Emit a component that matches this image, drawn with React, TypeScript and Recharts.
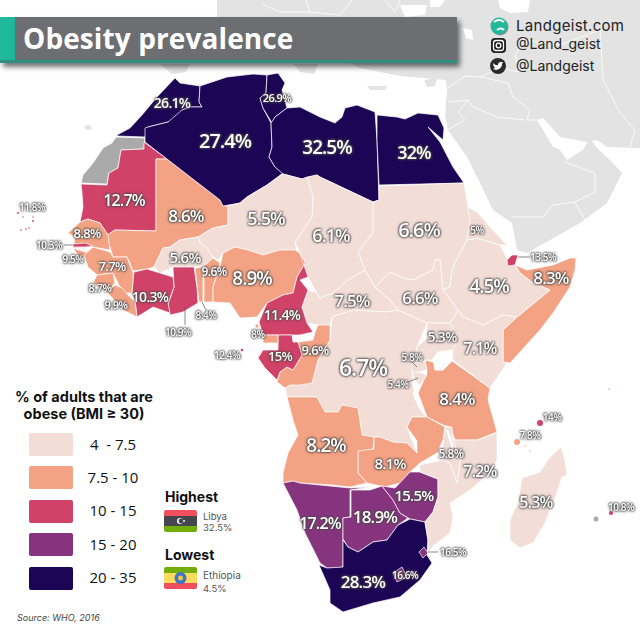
import { Scatter, ScatterChart, XAxis, YAxis } from 'recharts'

type Pt = [number, number]

// outlines, in map units
const morocco: Pt[] = [[117,135],[130,128],[142,115],[157,97],[175,78],[180,83],[200,86],[199,102],[202,107],[190,107],[182,110],[180,117],[168,122],[148,127],[145,137],[117,136]]
const westernSahara: Pt[] = [[116,137],[145,138],[144,149],[121,150],[118,168],[109,173],[107,184],[81,183],[83,175],[93,163],[103,148],[112,143]]
const mauritania: Pt[] = [[144,142],[167,159],[156,159],[156,231],[115,230],[108,235],[100,223],[88,219],[80,222],[83,207],[82,193],[81,184],[107,185],[109,173],[118,168],[121,150],[144,149]]
const mali: Pt[] = [[167,159],[220,200],[223,206],[228,206],[228,225],[213,228],[198,237],[180,240],[170,247],[163,248],[154,267],[147,269],[133,271],[130,263],[127,257],[113,257],[110,247],[107,235],[115,230],[156,231],[156,159]]
const algeria: Pt[] = [[200,86],[227,77],[253,74],[267,75],[266,93],[260,98],[263,108],[271,123],[272,147],[269,157],[275,167],[283,173],[267,185],[247,197],[240,203],[223,206],[220,200],[167,159],[145,142],[145,128],[148,127],[168,122],[182,110],[190,107],[202,107],[199,102]]
const tunisia: Pt[] = [[267,75],[278,73],[285,83],[282,90],[287,108],[275,117],[272,123],[263,108],[260,98],[266,93]]
const libya: Pt[] = [[287,108],[300,107],[320,117],[335,123],[342,117],[345,108],[357,105],[375,112],[377,140],[379,200],[373,202],[320,177],[317,175],[302,179],[283,174],[275,167],[269,157],[272,147],[271,123],[275,117]]
const egypt: Pt[] = [[377,115],[397,117],[405,119],[418,113],[438,115],[444,128],[443,140],[428,127],[440,142],[453,167],[464,183],[379,185],[377,140]]
const sudan: Pt[] = [[379,186],[464,183],[468,207],[478,213],[470,223],[467,240],[458,257],[452,270],[450,287],[443,290],[440,260],[435,260],[433,270],[413,280],[403,278],[390,272],[375,287],[365,270],[358,252],[373,232],[373,202],[379,200]]
const chad: Pt[] = [[307,177],[317,175],[320,177],[373,202],[373,232],[358,252],[365,270],[348,280],[333,293],[320,298],[317,293],[308,277],[300,253],[295,242],[312,217],[313,197]]
const niger: Pt[] = [[283,174],[302,179],[307,177],[313,197],[312,217],[295,242],[297,250],[280,250],[263,255],[248,250],[235,247],[223,253],[218,260],[213,257],[207,248],[200,243],[198,237],[213,228],[228,225],[228,206],[240,203],[247,197],[267,185]]
const burkina: Pt[] = [[198,237],[180,240],[170,247],[163,248],[154,267],[160,273],[173,267],[193,267],[210,265],[213,257],[207,248],[200,243]]
const ghana: Pt[] = [[173,267],[194,267],[197,287],[198,303],[183,312],[170,315],[168,305],[174,287]]
const ivoryCoast: Pt[] = [[134,272],[147,269],[160,273],[173,277],[174,287],[168,303],[170,313],[153,307],[137,317],[135,300],[132,293],[133,280]]
const togo: Pt[] = [[195,268],[203,267],[203,302],[199,302]]
const benin: Pt[] = [[204,266],[213,258],[220,263],[213,287],[213,302],[204,302]]
const nigeria: Pt[] = [[213,302],[213,287],[220,267],[223,253],[235,247],[248,250],[263,255],[280,250],[295,250],[300,253],[305,263],[297,277],[293,293],[283,295],[267,303],[257,317],[240,318],[230,303]]
const cameroon: Pt[] = [[300,253],[308,277],[300,280],[308,290],[302,307],[307,323],[313,332],[300,335],[278,335],[263,335],[259,322],[267,303],[283,295],[293,293],[297,277],[305,263]]
const car: Pt[] = [[308,290],[317,293],[320,298],[333,293],[348,280],[365,270],[375,287],[390,300],[398,310],[387,312],[353,310],[332,317],[330,325],[318,325],[307,323],[302,307]]
const congo: Pt[] = [[330,325],[318,325],[315,332],[313,340],[298,342],[302,355],[293,370],[287,367],[280,372],[277,382],[285,388],[290,385],[300,385],[312,383],[318,360],[330,340]]
const gabon: Pt[] = [[278,335],[292,335],[293,342],[298,342],[302,355],[293,370],[287,367],[280,372],[277,380],[265,368],[258,358],[263,350],[278,350]]
const eqGuinea: Pt[] = [[263,335],[278,335],[278,343],[263,343]]
const drc: Pt[] = [[332,317],[353,310],[387,312],[398,310],[427,323],[417,347],[417,363],[412,370],[413,387],[420,407],[427,417],[412,417],[407,427],[417,453],[407,443],[393,442],[380,437],[373,437],[362,435],[358,410],[342,405],[338,412],[325,412],[317,397],[287,397],[285,388],[290,385],[312,383],[318,360],[330,340]]
const tanzania: Pt[] = [[425,360],[433,362],[452,361],[490,388],[488,400],[497,432],[477,440],[455,440],[450,427],[443,425],[427,417],[418,393],[427,373]]
const zambia: Pt[] = [[412,417],[427,417],[445,427],[443,440],[437,453],[420,463],[410,472],[400,483],[385,487],[367,483],[358,473],[358,450],[374,449],[374,437],[380,437],[393,442],[407,443],[417,453],[417,441],[407,427]]
const angola: Pt[] = [[287,397],[317,397],[325,412],[338,412],[342,405],[358,408],[362,435],[374,437],[373,449],[358,451],[358,473],[367,483],[350,487],[332,485],[300,483],[293,481],[283,483],[283,473],[288,453],[298,435],[293,420]]
const namibia: Pt[] = [[283,483],[293,481],[300,483],[350,488],[370,487],[350,490],[350,517],[343,518],[343,567],[337,568],[327,568],[320,563],[305,533],[297,510]]
const botswana: Pt[] = [[351,490],[370,490],[382,486],[393,500],[400,513],[408,518],[398,525],[387,540],[373,542],[358,552],[348,547],[343,539],[343,518],[351,517]]
const zimbabwe: Pt[] = [[382,486],[395,488],[410,472],[420,472],[438,479],[438,497],[433,512],[425,522],[410,519],[400,513],[393,500]]
const southAfrica: Pt[] = [[343,540],[348,547],[358,552],[373,542],[387,540],[398,525],[410,519],[425,522],[428,540],[427,555],[432,563],[420,580],[400,597],[373,603],[343,612],[330,603],[330,590],[319,565],[327,568],[343,567]]
const lesotho: Pt[] = [[393,573],[402,567],[407,577],[397,582]]
const eswatini: Pt[] = [[419,552],[424,547],[428,553],[423,558]]
const mozambique: Pt[] = [[497,433],[497,460],[490,473],[470,490],[450,503],[453,517],[450,533],[432,547],[428,553],[428,540],[425,522],[433,512],[438,497],[438,479],[420,472],[420,465],[443,460],[450,463],[457,483],[460,460],[453,440],[455,440],[477,440]]
const malawi: Pt[] = [[445,427],[452,427],[453,440],[460,460],[457,483],[450,463],[443,460],[443,445]]
const madagascar: Pt[] = [[561,447],[565,460],[567,475],[562,477],[557,493],[545,523],[533,543],[520,548],[510,540],[510,520],[518,502],[522,478],[540,472],[550,457]]
const somalia: Pt[] = [[515,265],[527,270],[553,265],[570,258],[576,258],[575,270],[570,287],[553,313],[540,330],[510,363],[503,362],[503,340],[503,330],[517,317],[550,290],[533,283],[520,273]]
const ethiopia: Pt[] = [[467,240],[477,238],[500,245],[508,260],[515,265],[520,273],[533,283],[550,290],[517,317],[503,315],[483,325],[463,317],[458,310],[443,290],[450,287],[452,270],[458,257]]
const eritrea: Pt[] = [[468,207],[478,213],[490,227],[507,245],[500,245],[477,238],[467,240],[470,223]]
const djibouti: Pt[] = [[507,260],[512,255],[518,255],[515,265],[508,266]]
const kenya: Pt[] = [[458,310],[463,317],[483,325],[503,315],[517,317],[503,330],[503,362],[507,363],[490,388],[453,360],[450,357],[458,337],[450,323]]
const southSudan: Pt[] = [[375,287],[390,272],[403,278],[413,280],[433,270],[435,260],[440,260],[443,290],[458,310],[450,323],[427,323],[398,310],[390,300]]
const uganda: Pt[] = [[427,323],[450,323],[458,337],[450,357],[433,360],[425,360],[417,363],[417,347],[427,338]]
const rwanda: Pt[] = [[412,366],[417,363],[425,361],[427,370],[418,372],[412,373]]
const burundi: Pt[] = [[412,373],[418,372],[427,375],[420,385],[415,380]]
const senegal: Pt[] = [[80,222],[88,219],[100,223],[108,235],[110,250],[93,247],[73,248],[75,237],[68,233]]
const gambia: Pt[] = [[73,244],[85,243],[93,246],[85,247],[73,247]]
const guineaBissau: Pt[] = [[73,248],[88,253],[85,257],[80,258]]
const guinea: Pt[] = [[84,255],[93,247],[110,252],[113,257],[127,257],[130,265],[133,272],[133,280],[132,293],[123,293],[118,283],[113,273],[97,275],[88,267]]
const sierraLeone: Pt[] = [[97,275],[113,273],[115,283],[107,292],[93,283]]
const liberia: Pt[] = [[107,292],[115,285],[122,288],[128,295],[135,302],[137,317],[123,310]]

const countries: [string, Pt[], number | null][] = [
  ['Morocco', morocco, 26.1], ['Western Sahara', westernSahara, null], ['Mauritania', mauritania, 12.7], ['Mali', mali, 8.6],
  ['Algeria', algeria, 27.4], ['Tunisia', tunisia, 26.9], ['Libya', libya, 32.5], ['Egypt', egypt, 32],
  ['Sudan', sudan, 6.6], ['Chad', chad, 6.1], ['Niger', niger, 5.5], ['Burkina Faso', burkina, 5.6],
  ['Ghana', ghana, 10.9], ['Ivory Coast', ivoryCoast, 10.3], ['Togo', togo, 8.4], ['Benin', benin, 9.6],
  ['Nigeria', nigeria, 8.9], ['CAR', car, 7.5], ['Cameroon', cameroon, 11.4], ['DR Congo', drc, 6.7],
  ['Congo', congo, 9.6], ['Gabon', gabon, 15], ['Equatorial Guinea', eqGuinea, 8], ['Tanzania', tanzania, 8.4],
  ['Zambia', zambia, 8.1], ['Angola', angola, 8.2], ['Namibia', namibia, 17.2], ['Botswana', botswana, 18.9],
  ['Zimbabwe', zimbabwe, 15.5], ['South Africa', southAfrica, 28.3], ['Lesotho', lesotho, 16.6], ['Eswatini', eswatini, 16.5],
  ['Mozambique', mozambique, 7.2], ['Malawi', malawi, 5.8], ['Madagascar', madagascar, 5.3], ['Somalia', somalia, 8.3],
  ['Ethiopia', ethiopia, 4.5], ['Eritrea', eritrea, 5], ['Djibouti', djibouti, 13.5], ['Kenya', kenya, 7.1],
  ['South Sudan', southSudan, 6.6], ['Uganda', uganda, 5.3], ['Rwanda', rwanda, 5.8], ['Burundi', burundi, 5.4],
  ['Senegal', senegal, 8.8], ['Gambia', gambia, 10.3], ['Guinea-Bissau', guineaBissau, 9.5], ['Guinea', guinea, 7.7],
  ['Sierra Leone', sierraLeone, 8.7], ['Liberia', liberia, 9.9],
]

// land around Africa
const eurasia: Pt[] = [[217,0],[640,0],[640,148],[607,147],[597,140],[587,142],[560,137],[543,118],[537,120],[553,147],[560,150],[567,160],[583,150],[590,138],[597,148],[610,160],[622,173],[607,203],[580,223],[550,240],[527,253],[517,250],[512,223],[493,210],[480,183],[467,157],[448,130],[445,115],[447,92],[446,80],[400,76],[380,72],[360,68],[345,60],[217,60]]
const spainTip: Pt[] = [[160,64],[190,64],[186,72],[172,74]]
const sicily: Pt[] = [[294,64],[318,64],[314,74],[300,72]]
const crete: Pt[] = [[367,86],[387,86],[385,90],[370,90]]
const cyprus: Pt[] = [[424,80],[437,78],[435,86],[427,87]]
const canaries: Pt[] = [[84,126],[90,125],[92,129],[86,130]]
const blackSea: Pt[] = [[498,0],[530,0],[528,12],[510,13],[500,8]]
const marmara: Pt[] = [[463,28],[472,30],[473,40],[466,38]]
const adriatic: Pt[] = [[400,5],[427,5],[425,15],[405,17]]
const westSea: Pt[] = [[430,0],[445,0],[440,7],[430,7]]
const seas: [string, Pt[]][] = [['Black Sea', blackSea], ['Marmara', marmara], ['Aegean', adriatic], ['Ionian', westSea]]
const greyLands: [string, Pt[]][] = [['Eurasia', eurasia], ['Spain', spainTip], ['Sicily', sicily], ['Crete', crete], ['Cyprus', cyprus], ['Canaries', canaries]]

const borderIran: Pt[] = [[480,77],[508,83],[513,97],[530,110],[527,120],[537,120]]
const borderSaudi: Pt[] = [[468,100],[473,107],[497,117],[525,120]]
const borderJordan: Pt[] = [[448,102],[468,100],[458,112],[465,120],[447,130]]
const borderYemen: Pt[] = [[513,217],[543,217],[553,205],[575,202],[595,192],[595,173],[565,162]]
const borderOman: Pt[] = [[575,202],[585,220]]
const borderIranEast: Pt[] = [[603,80],[620,113],[635,130],[630,147]]
const borderTurkey: Pt[] = [[445,90],[465,76],[480,77],[500,68],[520,72]]
const borderCaucasus: Pt[] = [[520,72],[515,55],[525,40],[560,45],[600,30],[603,80]]
const borderEurope1: Pt[] = [[262,4],[280,12],[310,12],[340,15],[352,0]]
const borderEurope2: Pt[] = [[310,12],[306,0]]
const borderEurope3: Pt[] = [[385,0],[395,12],[400,0]]
const greyBorders = [borderIran, borderSaudi, borderJordan, borderYemen, borderOman, borderIranEast, borderTurkey, borderCaucasus, borderEurope1, borderEurope2, borderEurope3]

const lakeVictoria: Pt[] = [[433,358],[438,352],[452,350],[453,360],[443,370],[435,370]]
const lakeTanganyika: Pt[] = [[416,382],[414,395],[420,408],[426,416]]
const lakeMalawi: Pt[] = [[447,430],[452,445],[453,460]]

const leaders: Pt[][] = [
  [[64,245],[73,245]],
  [[518,257],[530,257]],
  [[185,307],[185,325]],
  [[202,302],[206,310]],
  [[412,362],[417,367]],
  [[408,382],[418,378]],
  [[428,552],[438,552]],
]

const islands: { x: number, y: number, value: number | null, r: number }[] = [
  { x: 18, y: 213, value: 11.8, r: 1 }, { x: 23, y: 217, value: 11.8, r: 0.7 }, { x: 33, y: 217, value: 11.8, r: 0.7 },
  { x: 33, y: 221, value: 11.8, r: 0.9 }, { x: 21, y: 230, value: 11.8, r: 0.8 }, { x: 26, y: 229, value: 11.8, r: 0.8 },
  { x: 29, y: 228, value: 11.8, r: 0.8 }, { x: 242, y: 350, value: 12.4, r: 1.3 }, { x: 257, y: 326, value: 8, r: 1.6 },
  { x: 540, y: 423, value: 14, r: 3 }, { x: 517, y: 442, value: 7.8, r: 3 }, { x: 525, y: 446, value: 7.8, r: 0.8 },
  { x: 520, y: 447, value: 7.8, r: 0.5 }, { x: 530, y: 451, value: null, r: 0.7 }, { x: 596, y: 519, value: null, r: 2.5 },
  { x: 611, y: 513, value: 10.8, r: 2 }, { x: 609, y: 389, value: 10.8, r: 0.6 },
]

// text, x, y, size class
const labels: [string, number, number, number][] = [
  ['26.1%', 172, 102, 7], ['27.4%', 225, 140, 1], ['26.9%', 277, 97, 10], ['32.5%', 327, 147, 2], ['32%', 414, 152, 3],
  ['12.7%', 124, 200, 5], ['8.6%', 186, 215, 4], ['5.5%', 266, 218, 3], ['6.1%', 331, 235, 3], ['6.6%', 419, 229, 1],
  ['5%', 477, 230, 11], ['13.5%', 543, 257, 11], ['8.3%', 551, 277, 4], ['4.5%', 489, 286, 2], ['7.5%', 352, 300, 4],
  ['6.6%', 420, 297, 4], ['8.8%', 87, 233, 8], ['11.8%', 32, 207, 11], ['10.3%', 49, 245, 11], ['9.5%', 73, 259, 11],
  ['7.7%', 112, 266, 8], ['8.7%', 100, 287, 10], ['9.9%', 116, 304, 10], ['10.3%', 150, 296, 7], ['5.6%', 185, 257, 6],
  ['9.6%', 214, 271, 9], ['8.9%', 252, 278, 2], ['8.4%', 206, 315, 11], ['10.9%', 178, 332, 11], ['11.4%', 282, 314, 7],
  ['12.4%', 227, 355, 11], ['8%', 258, 334, 11], ['15%', 280, 356, 8], ['9.6%', 315, 350, 8], ['6.7%', 363, 367, 0],
  ['5.3%', 442, 336, 7], ['7.1%', 480, 348, 5], ['5.8%', 412, 357, 11], ['5.4%', 398, 384, 11], ['8.4%', 457, 398, 4],
  ['8.2%', 326, 445, 2], ['8.1%', 390, 463, 6], ['5.8%', 451, 453, 9], ['7.2%', 480, 471, 5], ['5.3%', 536, 502, 5],
  ['14%', 552, 417, 11], ['7.8%', 530, 435, 11], ['10.8%', 621, 507, 11], ['15.5%', 414, 495, 6], ['17.2%', 320, 523, 5],
  ['18.9%', 375, 516, 4], ['28.3%', 363, 581, 4], ['16.6%', 405, 575, 11], ['16.5%', 453, 552, 11],
]
const labelSizes = [23, 20, 19, 18, 17, 16, 15, 14, 13, 12, 11, 10]

const legendBins = ['4  - 7.5', '7.5 - 10', '10 - 15', '15 - 20', '20 - 35']
const binLimits = [7.5, 10, 15, 20, 35]
const binColors = ['#f2ddd7', '#f3a283', '#d04268', '#87347f', '#1d0555']

const colorFor = (v: number | null) => {
  if (v === null) return '#aaaaaa'
  const i = binLimits.findIndex(l => v <= l)
  return binColors[i]
}

const toRows = (pts: Pt[]) => pts.map(([x, y]) => ({ x, y }))
const noDot = () => <g />

function closedShape(fill: string, stroke: string, sw: number) {
  return (p: any) => (
    <polygon points={p.points.map((q: any) => `${q.x},${q.y}`).join(' ')} fill={fill} stroke={stroke} strokeWidth={sw} strokeLinejoin="round" />
  )
}

function openLine(stroke: string, sw: number) {
  return (p: any) => (
    <polyline points={p.points.map((q: any) => `${q.x},${q.y}`).join(' ')} fill="none" stroke={stroke} strokeWidth={sw} strokeLinejoin="round" />
  )
}

function Flag({ top, mid, bottom, y }: { top: string, mid: string, bottom: string, y: number }) {
  return (
    <div style={{ position: 'absolute', left: 164, top: y, width: 33, height: 22, borderRadius: 2, overflow: 'hidden' }}>
      <div style={{ height: '28%', background: top }} />
      <div style={{ height: '44%', background: mid }} />
      <div style={{ height: '28%', background: bottom }} />
    </div>
  )
}

const sans = '"Inter", "Open Sans", sans-serif'
const txt = (left: number, top: number, size: number, extra: any = {}) => ({
  position: 'absolute', left, top, fontSize: size, fontFamily: sans, lineHeight: 1, whiteSpace: 'nowrap', ...extra,
}) as any

export default function App() {
  return (
    <div style={{ position: 'absolute', left: 0, top: 0, width: 640, height: 640, overflow: 'hidden', background: '#fff' }}>
      <ScatterChart width={640} height={640} margin={{ left: 0, right: 0, top: 0, bottom: 0 }}>
        <XAxis type="number" dataKey="x" domain={[0, 640]} hide />
        <YAxis type="number" dataKey="y" domain={[0, 640]} reversed hide />
        {greyLands.map(([name, pts]) => (
          <Scatter key={name} name={name} data={toRows(pts)} isAnimationActive={false} shape={noDot} line={closedShape('#e3e3e3', 'none', 0)} />
        ))}
        {seas.map(([name, pts]) => (
          <Scatter key={name} name={name} data={toRows(pts)} isAnimationActive={false} shape={noDot} line={closedShape('#fff', 'none', 0)} />
        ))}
        {greyBorders.map((pts, i) => (
          <Scatter key={'b' + i} data={toRows(pts)} isAnimationActive={false} shape={noDot} line={openLine('#fff', 0.8)} />
        ))}
        {countries.map(([name, pts, v]) => (
          <Scatter key={name} name={name} data={toRows(pts)} isAnimationActive={false} shape={noDot} line={closedShape(colorFor(v), '#fff', 0.7)} />
        ))}
        <Scatter data={toRows(lakeVictoria)} isAnimationActive={false} shape={noDot} line={closedShape('#fff', '#fff', 1)} />
        <Scatter data={toRows(lakeTanganyika)} isAnimationActive={false} shape={noDot} line={openLine('#fff', 2)} />
        <Scatter data={toRows(lakeMalawi)} isAnimationActive={false} shape={noDot} line={openLine('#fff', 2.5)} />
        <Scatter
          data={islands}
          isAnimationActive={false}
          shape={(p: any) => <circle cx={p.cx} cy={p.cy} r={p.payload.r} fill={colorFor(p.payload.value)} />}
        />
        {leaders.map((pts, i) => (
          <Scatter key={'l' + i} data={toRows(pts)} isAnimationActive={false} shape={noDot} line={openLine('#555', 0.7)} />
        ))}
        <Scatter
          data={labels.map(([text, x, y, tier]) => ({ text, x, y, tier }))}
          isAnimationActive={false}
          shape={(p: any) => (
            <text
              x={p.cx}
              y={p.cy}
              textAnchor="middle"
              dominantBaseline="central"
              fill="#fff"
              fontFamily='"Open Sans", sans-serif'
              fontWeight={600}
              fontSize={labelSizes[p.payload.tier]}
              letterSpacing={-0.05 * labelSizes[p.payload.tier]}
              style={{ filter: 'drop-shadow(0 0 1px #333) drop-shadow(0 0 1px #555)' }}
            >
              {p.payload.text}
            </text>
          )}
        />
      </ScatterChart>

      <div style={{ position: 'absolute', left: 0, top: 17, width: 457, height: 46, background: '#6d6e71', boxShadow: '3px 4px 5px rgba(0,0,0,.55)' }}>
        <div style={{ position: 'absolute', left: 0, top: 0, width: 15, height: 46, background: '#1fb89b' }} />
        <div style={{ position: 'absolute', left: 0, bottom: 0, width: 457, height: 3, background: '#2e9080' }} />
        <div style={txt(23, 5, 28, { color: '#fff', fontWeight: 700, letterSpacing: 0.1, fontFamily: '"Open Sans", sans-serif', lineHeight: '32px' })}>Obesity prevalence</div>
      </div>

      <svg width={640} height={640} style={{ position: 'absolute', left: 0, top: 0 }}>
        <circle cx={500} cy={27} r={8.5} fill="#333" opacity={0.5} />
        <circle cx={499} cy={26} r={8.5} fill="#1fb89b" />
        <path d="M494 22 q5 -4 10 0 M497 30 q4 -3 7 0" stroke="#fff" strokeWidth={2} fill="none" />
        <rect x={491} y={38} width={15} height={15} rx={4} fill="#222" />
        <rect x={493.5} y={40.5} width={10} height={10} rx={2.5} fill="none" stroke="#fff" strokeWidth={1.3} />
        <circle cx={498.5} cy={45.5} r={2.3} fill="none" stroke="#fff" strokeWidth={1.3} />
        <circle cx={498} cy={66} r={8} fill="#2b2b2b" />
        <path d="M493 63 q3 3 5 2 q0 -3 3 -3 l2 0 l-1 2 q0 5 -6 6 l-3 -1 l2 -1 q-2 -2 -2 -5z" fill="#fff" />
      </svg>
      <div style={txt(516, 18, 15, { color: '#222', letterSpacing: 0.3 })}>Landgeist.com</div>
      <div style={txt(516, 37, 14, { color: '#222' })}>@Land_geist</div>
      <div style={txt(516, 59, 14, { color: '#222' })}>@Landgeist</div>

      <div style={txt(84, 390, 14.5, { fontWeight: 700, color: '#111', width: 0, display: 'flex', justifyContent: 'center' })}>% of adults that are</div>
      <div style={txt(84, 407, 14.5, { fontWeight: 700, color: '#111', width: 0, display: 'flex', justifyContent: 'center' })}>obese (BMI ≥ 30)</div>
      {legendBins.map((b, i) => (
        <div key={b}>
          <div style={{ position: 'absolute', left: 29, top: 433 + i * 33.4, width: 44, height: 23, borderRadius: 2, background: binColors[i] }} />
          <div style={txt(113, 437 + i * 33.2, 15, { width: 0, display: 'flex', justifyContent: 'center', color: '#111', fontFamily: '"Open Sans", sans-serif', whiteSpace: 'pre' })}>{b}</div>
        </div>
      ))}

      <div style={txt(165, 490, 14, { fontWeight: 700, color: '#111' })}>Highest</div>
      <Flag top="#f0505e" mid="#45464f" bottom="#71ae0a" y={510} />
      <svg width={33} height={22} style={{ position: 'absolute', left: 164, top: 510 }}>
        <circle cx={16} cy={11} r={3} fill="#fff" />
        <circle cx={17} cy={11} r={2.4} fill="#45464f" />
        <circle cx={20} cy={11} r={1} fill="#fff" />
      </svg>
      <div style={txt(203, 512, 9.5, { color: '#555' })}>Libya</div>
      <div style={txt(203, 523, 9.5, { color: '#555' })}>32.5%</div>

      <div style={txt(165, 548, 14, { fontWeight: 700, color: '#111' })}>Lowest</div>
      <Flag top="#71ae0a" mid="#fddc5c" bottom="#f0505e" y={567} />
      <svg width={33} height={22} style={{ position: 'absolute', left: 164, top: 567 }}>
        <circle cx={16.5} cy={11} r={6} fill="#3f74c6" />
        <circle cx={16.5} cy={11} r={2.5} fill="#e6c84a" />
      </svg>
      <div style={txt(203, 570, 10, { color: '#555' })}>Ethiopia</div>
      <div style={txt(203, 584, 9.5, { color: '#555' })}>4.5%</div>

      <div style={txt(17, 613, 9, { fontStyle: 'italic', color: '#444' })}>Source: WHO, 2016</div>
    </div>
  )
}
